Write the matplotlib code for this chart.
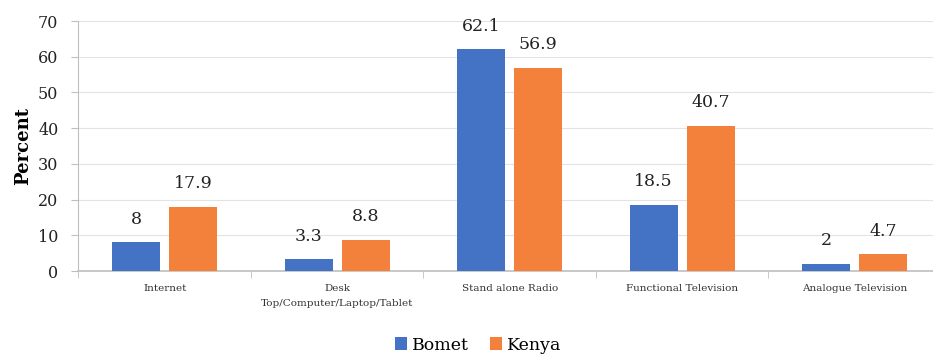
import matplotlib
matplotlib.use("Agg")
import matplotlib.pyplot as plt
import numpy as np

categories = ["Internet", "Desk\nTop/Computer/Laptop/Tablet", "Stand alone Radio",
              "Functional Television", "Analogue Television"]
bomet = [8, 3.3, 62.1, 18.5, 2]
kenya = [17.9, 8.8, 56.9, 40.7, 4.7]
series_names = ["Bomet", "Kenya"]
yticks = [0, 10, 20, 30, 40, 50, 60, 70]

plt.rcParams['font.family'] = ['DejaVu Serif']

fig = plt.figure(figsize=(9.33, 3.55), dpi=100)
ax = fig.add_axes([0.0841, 0.2366, 0.9244, 0.7042])

x = np.arange(len(categories))
w = 0.28
off = 0.165
b1 = ax.bar(x - off, bomet, w, color="#4472C4", label=series_names[0], zorder=3)
b2 = ax.bar(x + off, kenya, w, color="#F4813B", label=series_names[1], zorder=3)

for bars, vals in ((b1, bomet), (b2, kenya)):
    for r, v in zip(bars, vals):
        ax.annotate(f"{v:g}", (r.get_x() + r.get_width() / 2, v),
                    xytext=(0, 10.5), textcoords="offset points",
                    ha="center", va="bottom", fontsize=12.5, color="#222222")

ax.set_xlim(-0.5, len(categories) - 0.5)
ax.set_ylim(0, 70)
ax.set_yticks(yticks)
ax.tick_params(axis="y", labelsize=11.5, length=5, pad=9.5, color="#BFBFBF",
               labelcolor="#222222")
ax.yaxis.grid(True, color="#E3E3E3", linewidth=0.8, zorder=0)
ax.set_axisbelow(True)

ax.set_xticks(x)
ax.set_xticklabels(categories, fontsize=7.5, color="#333333", linespacing=1.9)
ax.tick_params(axis="x", length=0, pad=9)
ax.set_xticks(np.arange(len(categories) + 1) - 0.5, minor=True)
ax.tick_params(axis="x", which="minor", length=5, color="#BFBFBF")

for s in ("top", "right"):
    ax.spines[s].set_visible(False)
ax.spines["left"].set_color("#BFBFBF")
ax.spines["bottom"].set_color("#BFBFBF")
ax.spines["bottom"].set_linewidth(1.2)

ax.set_ylabel("Percent", fontsize=13, fontweight="bold", labelpad=4)

fig.legend(handles=[b1, b2], labels=series_names, loc="center",
           bbox_to_anchor=(478 / 933, 1 - 345 / 355), ncol=2, frameon=False,
           fontsize=12.5, handlelength=0.7, handleheight=0.7, handletextpad=0.3,
           columnspacing=1.2, borderaxespad=0)

fig.savefig("out.png", dpi=100)
